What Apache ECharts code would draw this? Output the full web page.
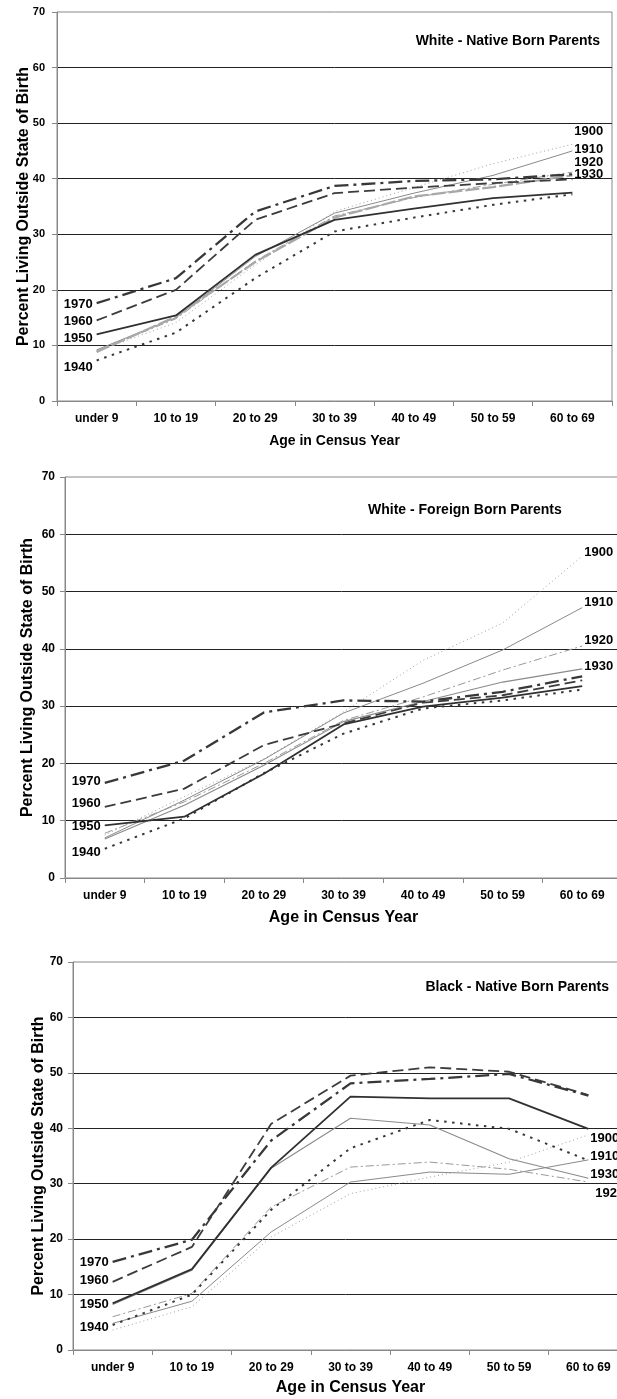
<!DOCTYPE html>
<html><head><meta charset="utf-8">
<script src="https://cdn.jsdelivr.net/npm/echarts/dist/echarts.min.js"></script>
<style>html,body{margin:0;padding:0;background:#fff}#c{width:617px;height:1399px}</style>
</head><body><div id="c"></div>
<script>
// ---- DATA ----
const categories = ['under 9', '10 to 19', '20 to 29', '30 to 39', '40 to 49', '50 to 59', '60 to 69'];
const years = ['1900', '1910', '1920', '1930', '1940', '1950', '1960', '1970'];
const panelTitles = ['White - Native Born Parents', 'White - Foreign Born Parents', 'Black - Native Born Parents'];
const xAxisTitle = 'Age in Census Year';
const yAxisTitle = 'Percent Living Outside State of Birth';

// Panel 1: White - Native Born Parents
const wn1900 = [9.0, 14.1, 24.5, 34.1, 38.4, 42.7, 46.2];
const wn1910 = [9.2, 15.0, 26.0, 33.8, 37.4, 40.6, 45.0];
const wn1920 = [9.0, 14.8, 25.2, 33.3, 36.6, 39.0, 41.2];
const wn1930 = [8.8, 15.2, 25.0, 33.0, 36.8, 38.5, 40.6];
const wn1940 = [7.3, 12.3, 22.1, 30.5, 33.0, 35.3, 37.2];
const wn1950 = [12.0, 15.4, 26.3, 32.6, 34.6, 36.5, 37.5];
const wn1960 = [14.5, 20.0, 32.6, 37.4, 38.4, 39.2, 39.9];
const wn1970 = [17.6, 22.1, 34.1, 38.7, 39.6, 39.9, 40.8];

// Panel 2: White - Foreign Born Parents
const wf1900 = [7.5, 14.2, 20.8, 29.0, 38.0, 44.5, 56.2];
const wf1910 = [7.0, 13.6, 20.7, 28.8, 34.0, 39.8, 47.2];
const wf1920 = [7.8, 13.3, 20.0, 27.5, 31.6, 36.3, 40.5];
const wf1930 = [6.8, 12.7, 19.7, 27.3, 30.8, 34.2, 36.5];
const wf1940 = [5.1, 10.4, 18.3, 25.2, 29.6, 31.0, 32.9];
const wf1950 = [9.2, 10.7, 18.2, 26.8, 29.9, 31.5, 33.5];
const wf1960 = [12.4, 15.6, 23.2, 27.0, 30.6, 31.9, 34.5];
const wf1970 = [16.6, 20.5, 28.9, 31.0, 30.8, 32.5, 35.2];

// Panel 3: Black - Native Born Parents
const bn1900 = [3.6, 7.8, 20.4, 28.2, 31.2, 33.9, 38.8];
const bn1910 = [4.8, 8.8, 21.3, 30.3, 32.1, 31.7, 34.3];
const bn1920 = [6.0, 10.2, 25.8, 33.0, 33.9, 32.6, 30.3];
const bn1930 = [8.2, 14.4, 32.8, 41.8, 40.6, 34.5, 31.0];
const bn1940 = [4.5, 10.0, 25.3, 36.4, 41.5, 39.9, 34.2];
const bn1950 = [8.4, 14.6, 32.9, 45.7, 45.4, 45.4, 39.9];
const bn1960 = [12.3, 18.6, 40.8, 49.5, 51.0, 50.2, 46.0];
const bn1970 = [15.9, 19.9, 37.8, 48.1, 48.9, 49.8, 45.9];

const panels = [
  [wn1900, wn1910, wn1920, wn1930, wn1940, wn1950, wn1960, wn1970],
  [wf1900, wf1910, wf1920, wf1930, wf1940, wf1950, wf1960, wf1970],
  [bn1900, bn1910, bn1920, bn1930, bn1940, bn1950, bn1960, bn1970]
];

// ---- STYLE / LAYOUT ----
const FONT = 'Liberation Sans, Arial, sans-serif';
const styles = {
  '1900': {color: '#a0a0a0', width: 1, type: [1, 3]},
  '1910': {color: '#8a8a8a', width: 1, type: 'solid'},
  '1920': {color: '#999999', width: 1, type: [8, 3, 2, 3]},
  '1930': {color: '#8a8a8a', width: 1.1, type: 'solid'},
  '1940': {color: '#383838', width: 2, type: [2.5, 5.5]},
  '1950': {color: '#303030', width: 1.8, type: 'solid'},
  '1960': {color: '#3c3c3c', width: 1.8, type: [11, 5]},
  '1970': {color: '#383838', width: 2.3, type: [14, 5, 3, 5]}
};
const panelStyleOverride = [{'1930': {color: '#a8a8a8', width: 2.2, type: [14, 3]}}, {}, {}];

const grids = [
  {left: 57, top: 12, width: 555, height: 389},
  {left: 65, top: 477, width: 557, height: 401},
  {left: 73, top: 962, width: 555, height: 388}
];
const yNameGap = [25, 29, 26];
const xNameGap = [33, 32, 30];
const xNameSize = [14, 16, 16];
const yLabelSize = [11, 12, 12];
const yLabelMargin = [12, 10, 10];
// label shifts: right labels (1900-1930) and left labels (1940-1970)
const labelOffsets = [
  {'1900': [0, -13], '1910': [0, -2], '1920': [0, -10], '1930': [0, -1], '1940': [0, 7], '1950': [0, 4], '1960': [0, 1], '1970': [0, 1]},
  {'1900': [0, -4], '1910': [0, -5], '1920': [0, -6], '1930': [0, -2], '1940': [0, 4], '1950': [0, 1], '1960': [0, -4], '1970': [0, -1]},
  {'1900': [0, 3], '1910': [0, -3], '1920': [5, 11], '1930': [0, -4], '1940': [0, 2], '1950': [0, 1], '1960': [0, -1], '1970': [0, 1]}
];
const titlePos = [
  {right: 17, top: 34},
  {left: 368, top: 503},
  {right: 8, top: 980}
];

const labelStyle = {fontFamily: FONT, fontWeight: 'bold', fontSize: 13, color: '#000'};

const series = [];
panels.forEach((panel, p) => {
  panel.forEach((vals, k) => {
    const yr = years[k];
    const st = Object.assign({}, styles[yr], panelStyleOverride[p][yr] || {});
    const isRight = k < 4;
    const off = labelOffsets[p][yr];
    const data = vals.map((v, i) => {
      const labelled = isRight ? i === vals.length - 1 : i === 0;
      if (!labelled) return v;
      return {
        value: v,
        label: Object.assign({
          show: true,
          position: isRight ? 'right' : 'left',
          distance: isRight ? 2 : 4,
          formatter: yr
        }, labelStyle)
      };
    });
    series.push({
      type: 'line',
      name: yr + '-' + p,
      xAxisIndex: p,
      yAxisIndex: p,
      data: data,
      symbol: 'circle',
      symbolSize: 0.01,
      showSymbol: true,
      showAllSymbol: true,
      smooth: false,
      z: 2 + k,
      lineStyle: {color: st.color, width: st.width, type: st.type, cap: 'butt'},
      itemStyle: {color: 'rgba(0,0,0,0)', borderWidth: 0},
      label: {show: false},
      labelLayout: {hideOverlap: false, dx: off[0], dy: off[1]},
      emphasis: {disabled: true},
      animation: false
    });
  });
});

const option = {
  animation: false,
  backgroundColor: '#fff',
  textStyle: {fontFamily: FONT},
  title: panelTitles.map((t, p) => Object.assign({
    text: t,
    padding: 0,
    textStyle: {fontFamily: FONT, fontWeight: 'bold', fontSize: 14, color: '#000'}
  }, titlePos[p])),
  grid: grids.map(g => Object.assign({
    show: true, borderColor: '#888', borderWidth: 1, backgroundColor: '#fff',
    containLabel: false, outerBoundsMode: 'none'
  }, g)),
  xAxis: grids.map((g, p) => ({
    type: 'category',
    gridIndex: p,
    data: categories,
    boundaryGap: true,
    name: xAxisTitle,
    nameLocation: 'middle',
    nameGap: xNameGap[p],
    nameMoveOverlap: false,
    nameTextStyle: {fontFamily: FONT, fontWeight: 'bold', fontSize: xNameSize[p], color: '#000'},
    axisLine: {show: true, lineStyle: {color: '#888', width: 1}},
    axisTick: {show: true, length: 5, inside: false, lineStyle: {color: '#888'}},
    axisLabel: {fontFamily: FONT, fontWeight: 'bold', fontSize: 12, color: '#000', margin: 12, interval: 0},
    splitLine: {show: false}
  })),
  yAxis: grids.map((g, p) => ({
    type: 'value',
    gridIndex: p,
    min: 0, max: 70, interval: 10,
    name: yAxisTitle,
    nameLocation: 'middle',
    nameGap: yNameGap[p],
    nameMoveOverlap: false,
    nameRotate: 90,
    nameTextStyle: {fontFamily: FONT, fontWeight: 'bold', fontSize: 16, color: '#000'},
    axisLine: {show: true, lineStyle: {color: '#888', width: 1}},
    axisTick: {show: true, length: 5, inside: false, lineStyle: {color: '#888'}},
    axisLabel: {fontFamily: FONT, fontWeight: 'bold', fontSize: yLabelSize[p], color: '#000', margin: yLabelMargin[p]},
    splitLine: {show: true, showMinLine: false, showMaxLine: false, lineStyle: {color: '#222', width: 1}}
  })),
  series: series
};

const chart = echarts.init(document.getElementById('c'), null, {renderer: 'canvas', width: 617, height: 1399});
chart.setOption(option);
</script>
</body></html>
